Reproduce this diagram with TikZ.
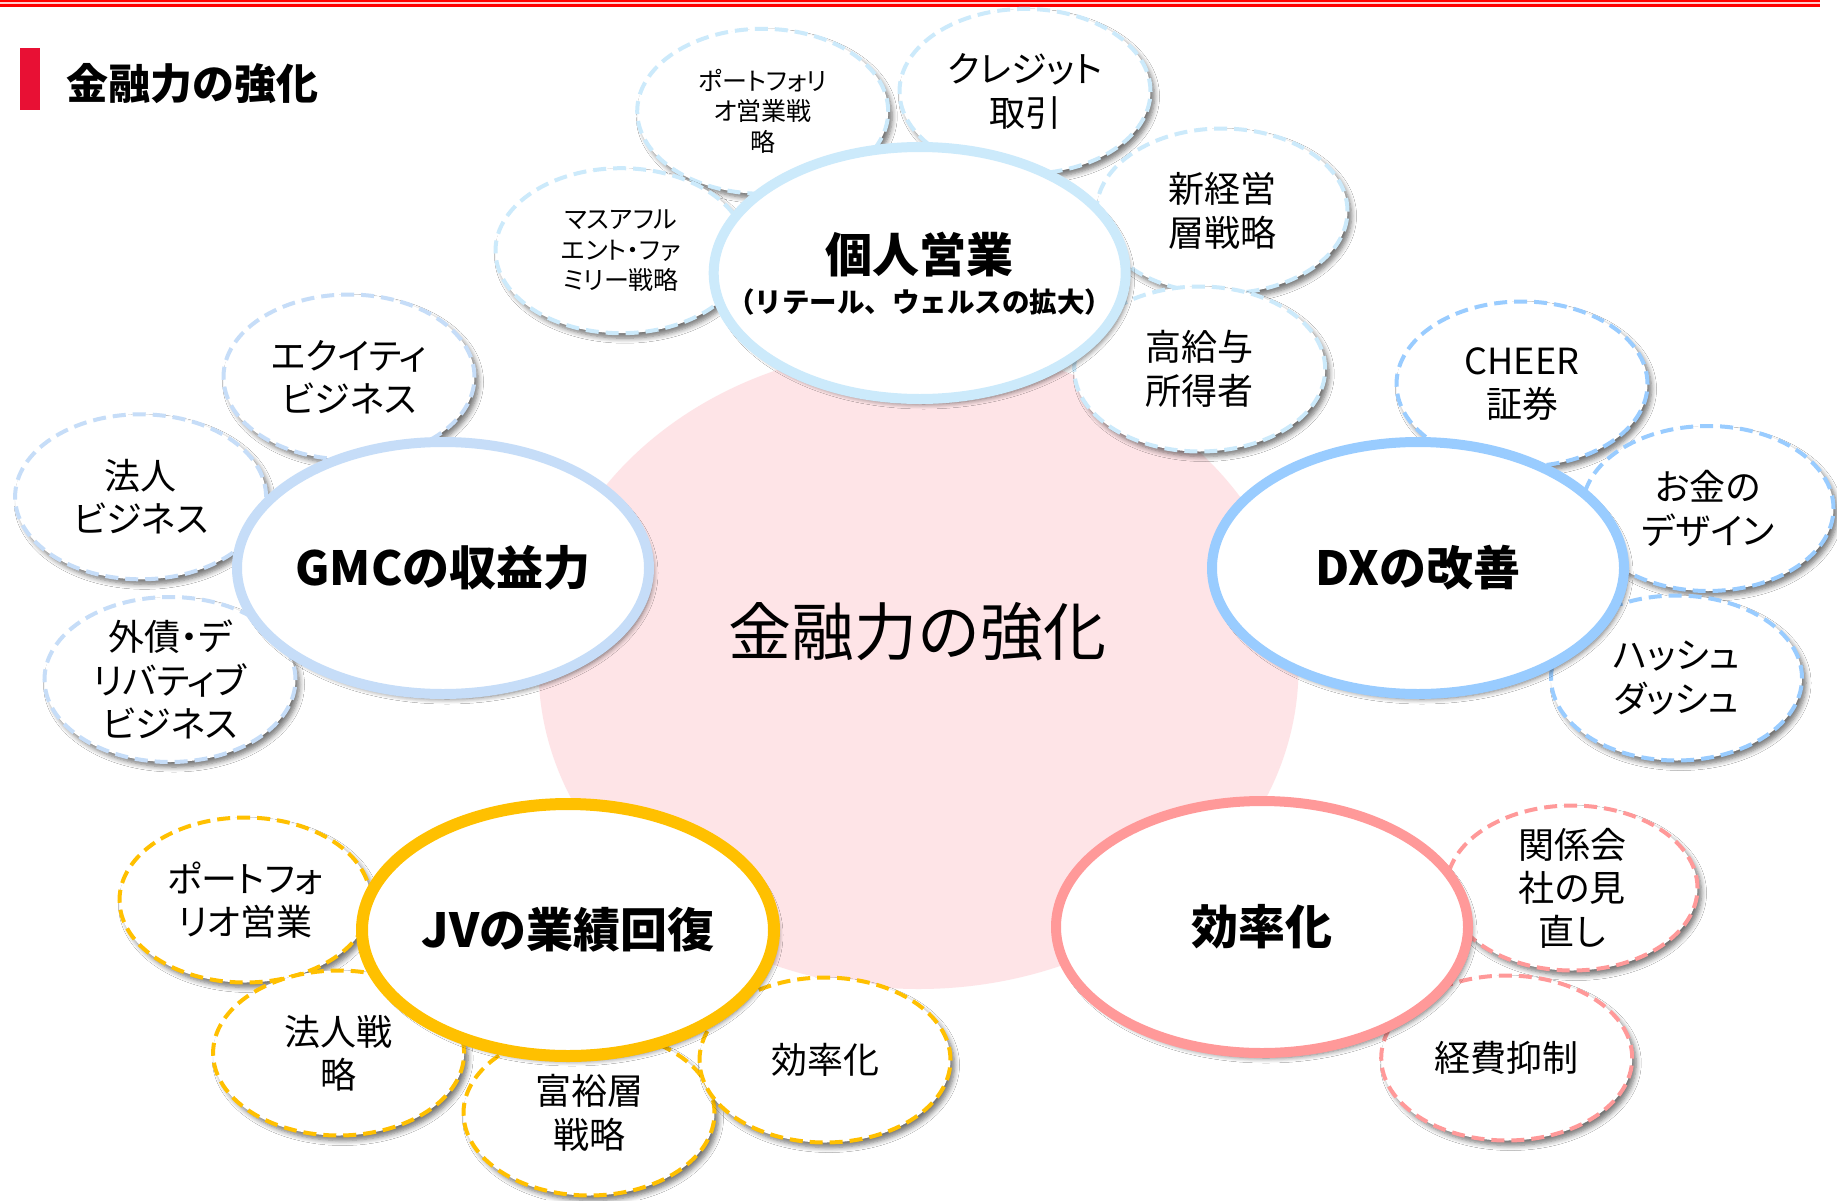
\documentclass[tikz,border=0pt]{standalone}
\usepackage{fontspec}
\newfontfamily\jp{Noto Sans CJK JP}
\newfontfamily\jpp[RawFeature=+palt]{Noto Sans CJK JP}
\usetikzlibrary{shapes.geometric,shadows.blur}
\definecolor{ringA}{RGB}{204,234,251}
\definecolor{ringB}{RGB}{198,221,248}
\definecolor{ringC}{RGB}{153,204,255}
\definecolor{ringD}{RGB}{255,192,0}
\definecolor{ringE}{RGB}{255,153,153}
\definecolor{pinkbg}{RGB}{254,228,231}
\definecolor{titlered}{RGB}{232,16,52}
\definecolor{linered}{RGB}{255,0,0}
\definecolor{linepale}{RGB}{255,205,205}
\begin{document}
\begin{tikzpicture}[x=1pt,y=-1pt,
  softshadow/.style={blur shadow={shadow xshift=4pt,shadow yshift=-5pt,shadow blur steps=6,shadow blur radius=5pt,shadow opacity=55}},
  mainring/.style={ellipse,draw=#1,line width=10pt,fill=white,minimum width=412pt,minimum height=252pt,inner sep=0pt,softshadow},
  bubble/.style={ellipse,draw=#1,line width=4pt,dash pattern=on 13pt off 7pt,fill=white,minimum width=251pt,minimum height=165pt,inner sep=0pt,softshadow},
  maintext/.style={font=\jp\bfseries\fontsize{47}{56}\selectfont,align=center,inner sep=0pt},
  parentext/.style={font=\jp\bfseries\fontsize{27.5}{32}\selectfont,align=center,inner sep=0pt},
  subtext/.style={font=\jpp\fontsize{36}{43.5}\selectfont,align=center,inner sep=0pt},
  smalltext/.style={font=\jpp\fontsize{25}{30.5}\selectfont,align=center,inner sep=0pt}]
\useasboundingbox (0,0) rectangle (1837,1200);
\fill[white] (0,0) rectangle (1837,1200);
% top rule
\fill[linepale] (0,0) rectangle (1820,7);
\fill[linered] (0,0) rectangle (1820,2.3);
\fill[linered] (0,4.3) rectangle (1820,7);
% title
\fill[titlered] (20,48) rectangle (40,110);
\node[anchor=west,inner sep=0pt,font=\jp\bfseries\fontsize{42}{48}\selectfont] (title) at (66,84) {金融力の強化};
% background
\node[ellipse,fill=pinkbg,minimum width=760pt,minimum height=642pt,inner sep=0pt] (bg) at (918.5,668) {};
% small bubbles
\node[bubble=ringA] (b1) at (762.7,111.3) {};
\node[bubble=ringA] (b2) at (1025,91.4) {};
\node[bubble=ringA] (b3) at (1222,211) {};
\node[bubble=ringA] (b4) at (1199.7,369) {};
\node[bubble=ringA] (b5) at (621,250.7) {};
\node[bubble=ringB] (b6) at (349,377) {};
\node[bubble=ringB] (b7) at (140.6,496.8) {};
\node[bubble=ringB] (b8) at (170,679.5) {};
\node[bubble=ringC] (b9) at (1522,384) {};
\node[bubble=ringC] (b10) at (1708,508.5) {};
\node[bubble=ringC] (b11) at (1676.5,678) {};
\node[bubble=ringD] (b12) at (245,900) {};
\node[bubble=ringD] (b13) at (338.6,1053) {};
\node[bubble=ringD] (b14) at (589,1113) {};
\node[bubble=ringD] (b15) at (825,1060) {};
\node[bubble=ringE] (b16) at (1572,888) {};
\node[bubble=ringE] (b17) at (1506.7,1058) {};
% main rings
\node[mainring=ringA] (m1) at (919.7,273) {};
\node[mainring=ringB] (m2) at (443,568) {};
\node[mainring=ringC] (m3) at (1418,568) {};
\node[mainring=ringD,line width=12pt] (m4) at (568,930) {};
\node[mainring=ringE] (m5) at (1262,927) {};
% texts
\node[inner sep=0pt,font=\jp\fontsize{63}{72}\selectfont] (ctext) at (917,632) {金融力の強化};
\node[maintext] (m1a) at (919.7,255) {個人営業};
\node[parentext] (m1b) at (919.7,302) {（リテール、ウェルスの拡大）};
\node[maintext] (m2t) at (m2) {GMCの収益力};
\node[maintext] (m3t) at (m3) {DXの改善};
\node[maintext] (m4t) at (m4) {JVの業績回復};
\node[maintext] (m5t) at (m5) {効率化};
\node[smalltext] (b1t) at (b1) {ポートフォリ\\オ営業戦\\略};
\node[subtext] (b2t) at (b2) {クレジット\\取引};
\node[subtext] (b3t) at (b3) {新経営\\層戦略};
\node[subtext] (b4t) at (b4) {高給与\\所得者};
\node[smalltext] (b5t) at (b5) {マスアフル\\エント・ファ\\ミリー戦略};
\node[subtext] (b6t) at (b6) {エクイティ\\ビジネス};
\node[subtext] (b7t) at (b7) {法人\\ビジネス};
\node[subtext] (b8t) at (b8) {外債・デ\\リバティブ\\ビジネス};
\node[subtext] (b9t) at (b9) {CHEER\\証券};
\node[subtext] (b10t) at (b10) {お金の\\デザイン};
\node[subtext] (b11t) at (b11) {ハッシュ\\ダッシュ};
\node[subtext] (b12t) at (b12) {ポートフォ\\リオ営業};
\node[subtext] (b13t) at (b13) {法人戦\\略};
\node[subtext] (b14t) at (b14) {富裕層\\戦略};
\node[subtext] (b15t) at (b15) {効率化};
\node[subtext] (b16t) at (b16) {関係会\\社の見\\直し};
\node[subtext] (b17t) at (b17) {経費抑制};
\end{tikzpicture}
\end{document}
